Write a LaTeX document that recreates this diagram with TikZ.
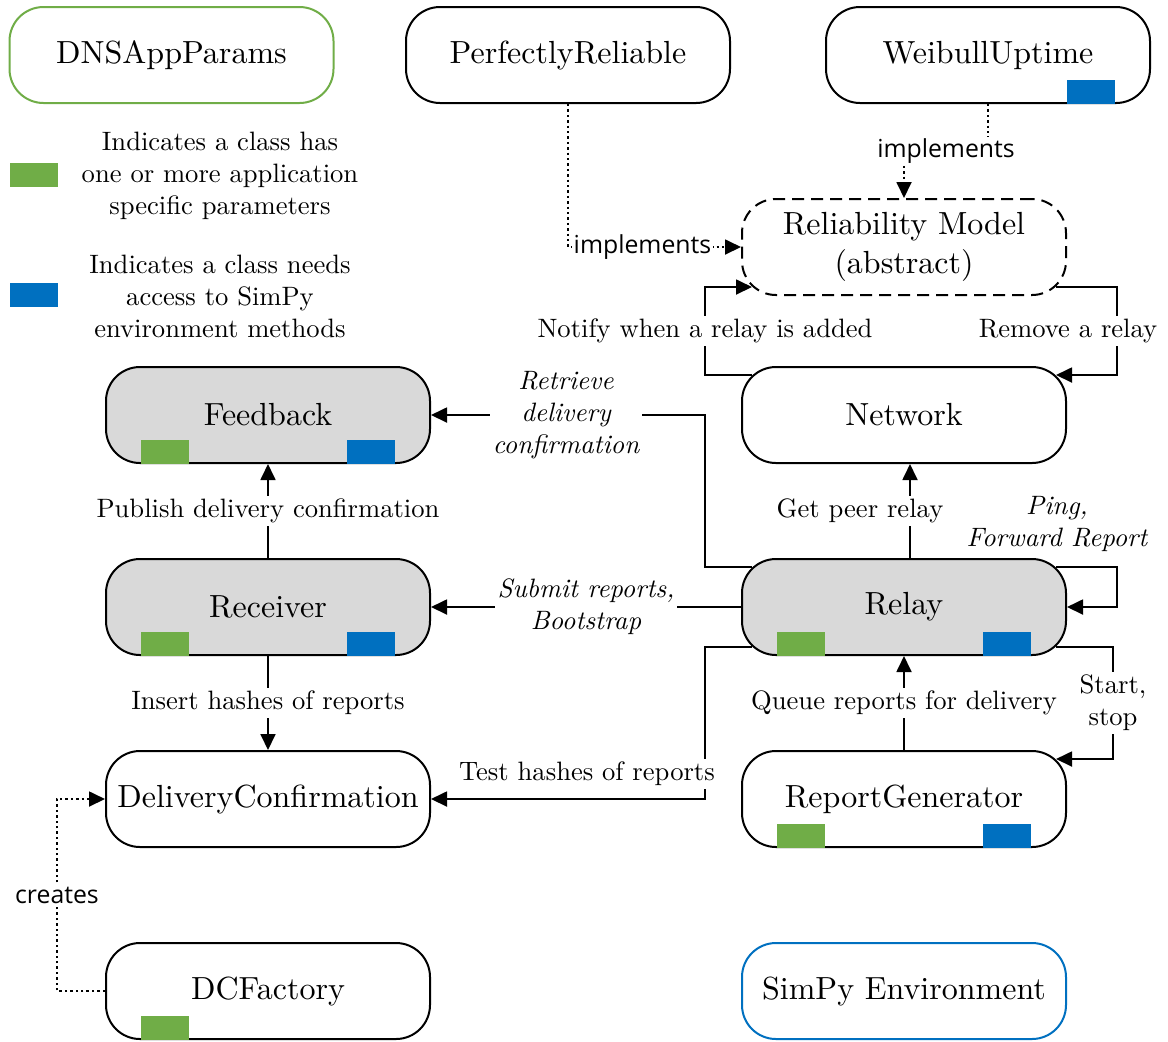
\documentclass[tikz,border=0pt]{standalone}
\usepackage{fontspec}
\setmainfont{lmroman10-regular.otf}[ItalicFont=lmroman10-italic.otf, BoldFont=lmroman10-bold.otf]
\newfontfamily\implfont{Open Sans}
\usetikzlibrary{arrows.meta,calc}
\definecolor{appgreen}{HTML}{70AD47}
\definecolor{envblue}{HTML}{0070C0}
\definecolor{boxgray}{HTML}{D9D9D9}
\tikzset{
  cls/.style={draw, line width=1pt, rounded corners=17pt, minimum width=162pt,
    minimum height=48pt, inner sep=0pt, fill=white, align=center,
    font=\fontsize{16}{19.5}\selectfont},
  active/.style={cls, fill=boxgray},
  conn/.style={line width=0.9pt, -{Triangle[length=8pt,width=7.5pt]}},
  dotc/.style={conn, dash pattern=on 1.2pt off 1.5pt},
  lbl/.style={fill=white, inner sep=1.5pt, align=center,
    font=\fontsize{13.3}{16}\selectfont},
  ilbl/.style={lbl, font=\fontsize{13.3}{16}\selectfont\itshape},
  impl/.style={fill=white, inner sep=1pt, font=\implfont\fontsize{12.4}{15}\selectfont},
  gsq/.style={fill=appgreen},
  bsq/.style={fill=envblue},
}
\begin{document}
\begin{tikzpicture}[x=0.5pt, y=-0.5pt]
\useasboundingbox (0,0) rectangle (1168,1041);

% classes
\node[cls, draw=appgreen] (dns) at (171.5,55) {DNSAppParams};
\node[cls] (pr) at (568,55) {PerfectlyReliable};
\node[cls] (wu) at (988,55) {WeibullUptime};
\node[cls, dash pattern=on 6pt off 3.5pt] (rm) at (904,247) {Reliability Model\\(abstract)};
\node[cls] (net) at (904,415) {Network};
\node[active] (fb) at (268,415) {Feedback};
\node[active] (rcv) at (268,607) {Receiver};
\node[active] (relay) at (904,607) {Relay};
\node[cls] (dc) at (268,799) {DeliveryConfirmation};
\node[cls] (rg) at (904,799) {ReportGenerator};
\node[cls] (dcf) at (268,991) {DCFactory};
\node[cls, draw=envblue] (simpy) at (904,991) {SimPy Environment};

% parameter / environment markers
\fill[bsq] ($(wu.south east)+(-84,0)$) rectangle ++(48,-24);
\foreach \n in {fb,rcv,relay,rg}{
  \fill[gsq] ($(\n.south west)+(36,0)$) rectangle ++(48,-24);
  \fill[bsq] ($(\n.south east)+(-84,0)$) rectangle ++(48,-24);
}
\fill[gsq] ($(dcf.south west)+(36,0)$) rectangle ++(48,-24);

% legend
\fill[gsq] (10,163) rectangle (58,187);
\fill[bsq] (10,283) rectangle (58,307);
\node[lbl] (leg1) at (220,176) {Indicates a class has\\one or more application\\specific parameters};
\node[lbl] (leg2) at (220,296) {Indicates a class needs\\access to SimPy\\environment methods};

% implementations
\draw[dotc] (pr.south) |- (rm.west)
  node[impl, pos=0.75, xshift=-6pt] {implements};
\draw[dotc] (wu.south) -- ++(0,47) -| (rm.north)
  node[impl, pos=0.25] {implements};
\draw[dotc] (dcf.west) -- ++(-48,0) |- (dc.west)
  node[impl, pos=0.25] {creates};

% interactions
\draw[conn] ($(net.north west)+(11,9)$) -- ++(-47,0) |- ($(rm.south west)+(11,-9)$)
  node[lbl, pos=0.25] {Notify when a relay is added};
\draw[conn] ($(rm.south east)+(-11,-9)$) -- ++(61,0) |- ($(net.north east)+(-11,9)$)
  node[lbl, pos=0.25, xshift=-24.5pt] {Remove a relay};
\draw[conn] ($(relay.north west)+(11,9)$) -- ++(-47,0) |- (fb.east)
  node[ilbl, pos=0.75, xshift=-1pt] {Retrieve\\delivery\\confirmation};
\draw[conn] ($(relay.north)+(6,0)$) -- ($(net.south)+(6,0)$)
  node[lbl, midway, xshift=-25pt] {Get peer relay};
\draw[conn] ($(relay.north east)+(-11,9)$) -- ++(61,0) |- (relay.east);
\node[ilbl, fill=none] (ping) at (1057,524) {Ping,\\Forward Report};
\draw[conn] (relay.west) -- (rcv.east)
  node[ilbl, midway] {Submit reports,\\Bootstrap};
\draw[conn] ($(relay.south west)+(11,-9)$) -- ++(-47,0) |- (dc.east);
\node[lbl] (test) at (587,774) {Test hashes of reports};
\draw[conn] (rg.north) -- (relay.south)
  node[lbl, midway] {Queue reports for delivery};
\draw[conn] ($(relay.south east)+(-11,-9)$) -- ++(57,0) |- ($(rg.north east)+(-11,9)$)
  node[lbl, pos=0.25] {Start,\\stop};
\draw[conn] (rcv.north) -- (fb.south)
  node[lbl, midway] {Publish delivery confirmation};
\draw[conn] (rcv.south) -- (dc.north)
  node[lbl, midway] {Insert hashes of reports};
\end{tikzpicture}
\end{document}
